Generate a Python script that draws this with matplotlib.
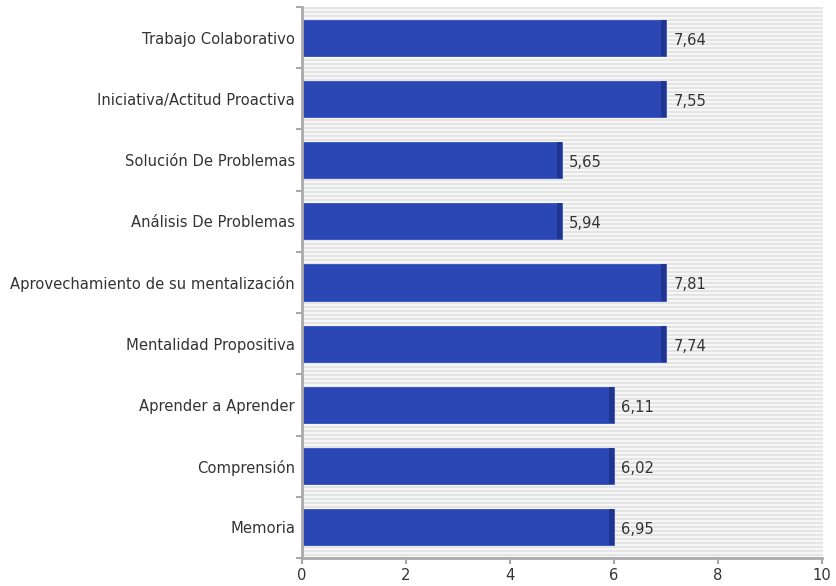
import numpy as np
import matplotlib
matplotlib.use('Agg')
from matplotlib import pyplot as plt
from matplotlib.colors import ListedColormap

categorias = ['Trabajo Colaborativo', 'Iniciativa/Actitud Proactiva', 'Solución De Problemas',
              'Análisis De Problemas', 'Aprovechamiento de su mentalización', 'Mentalidad Propositiva',
              'Aprender a Aprender', 'Comprensión', 'Memoria']
valores = [7.64, 7.55, 5.65, 5.94, 7.81, 7.74, 6.11, 6.02, 6.95]
# largo de barra que se ve en el grafico (parte entera)
largo = [7, 7, 5, 5, 7, 7, 6, 6, 6]

fig = plt.figure(figsize=(8.37, 5.86), dpi=100)
ax = fig.add_axes([0.3608, 0.0478, 0.9821 - 0.3608, 0.988 - 0.0478])

n = len(categorias)
y = np.arange(n)

# fondo rayado
rayas = np.tile([[0], [1]], (138, 1))
ax.imshow(rayas, cmap=ListedColormap(['#e4e4e4', '#f7f7f7']), extent=(0, 10, n - 0.5, -0.5),
          aspect='auto', interpolation='nearest', zorder=0)

ax.barh(y, largo, height=0.59, color='#2b47b3', edgecolor='#3552c4', linewidth=0.6, zorder=2)
ax.barh(y, [0.09] * n, left=np.array(largo) - 0.09, height=0.59, color='#1f3590', linewidth=0, zorder=3)

for yi, l, v in zip(y, largo, valores):
    ax.text(l + 0.14, yi + 0.04, ('%.2f' % v).replace('.', ','), va='center', ha='left',
            fontsize=10.6, color='#333333', zorder=4)

ax.set_xlim(0, 10)
ax.set_ylim(n - 0.5, -0.5)
ax.set_xticks([0, 2, 4, 6, 8, 10])
ax.set_yticks(y)
ax.set_yticklabels(categorias, fontsize=10.6, color='#333333')
ax.set_yticks(np.arange(n + 1) - 0.5, minor=True)
ax.tick_params(axis='y', which='major', length=0, pad=5)
ax.tick_params(axis='y', which='minor', length=4, width=1.5, color='#aaaaaa')
ax.tick_params(axis='x', length=4, width=1.5, color='#aaaaaa', labelsize=10.6, labelcolor='#333333')

for s in ['top', 'right']:
    ax.spines[s].set_visible(False)
for s in ['left', 'bottom']:
    ax.spines[s].set_color('#aaaaaa')
    ax.spines[s].set_linewidth(2)

fig.savefig('out.png', dpi=100)
